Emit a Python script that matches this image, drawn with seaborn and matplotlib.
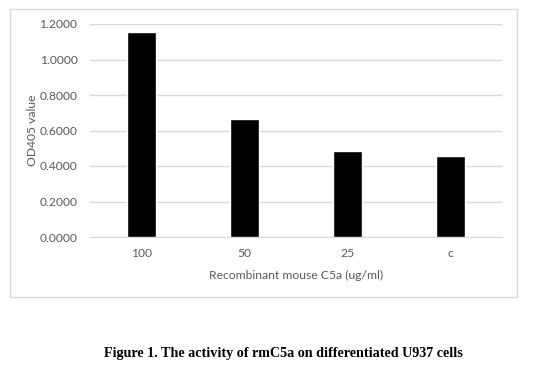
import matplotlib
matplotlib.use("Agg")
import matplotlib.pyplot as plt
import seaborn as sns
import pandas as pd
from matplotlib.patches import Rectangle

# values
concentrations = ['100', '50', '25', 'c']
od405 = [1.155, 0.665, 0.485, 0.458]
y_ticks = [0.0, 0.2, 0.4, 0.6, 0.8, 1.0, 1.2]

df = pd.DataFrame({'conc': concentrations, 'od': od405})

sns.set_style('white')
plt.rcParams['font.family'] = ['Lato', 'DejaVu Sans']

W, H = 535, 369
fig = plt.figure(figsize=(W / 100, H / 100), dpi=100)
ax = fig.add_axes([90 / W, 1 - 237 / H, 412 / W, 213 / H])

# outer chart border
fig.patches.append(Rectangle((10 / W, 1 - 297 / H), 507 / W, 288 / H,
                             transform=fig.transFigure, fill=False,
                             edgecolor='#d9d9d9', linewidth=1))

sns.barplot(data=df, x='conc', y='od', color='black', width=0.28,
            saturation=1, ax=ax, zorder=3)

ax.set_ylim(0, 1.2)
ax.set_xlim(-0.5, 3.5)
ax.set_yticks(y_ticks)
ax.set_yticklabels([f'{v:.4f}' for v in y_ticks])
ax.yaxis.grid(True, color='#d9d9d9', linewidth=1)
ax.set_axisbelow(True)
for s in ['top', 'right', 'left']:
    ax.spines[s].set_visible(False)
ax.spines['bottom'].set_color('#d9d9d9')
ax.tick_params(axis='both', length=0, labelsize=8.7, colors='#595959')
ax.tick_params(axis='y', pad=9)
ax.tick_params(axis='x', pad=8)

ax.set_xlabel('Recombinant mouse C5a (ug/ml)', fontsize=8.7, color='#595959', labelpad=8)
ax.set_ylabel('OD405 value', fontsize=8.7, color='#595959', labelpad=1)

fig.text(283 / W, 1 - 353 / H, 'Figure 1. The activity of rmC5a on differentiated U937 cells',
         ha='center', va='center', fontsize=10.2, fontweight='bold',
         family=['Liberation Serif', 'DejaVu Serif'], color='black')

fig.savefig('out.png', dpi=100)
